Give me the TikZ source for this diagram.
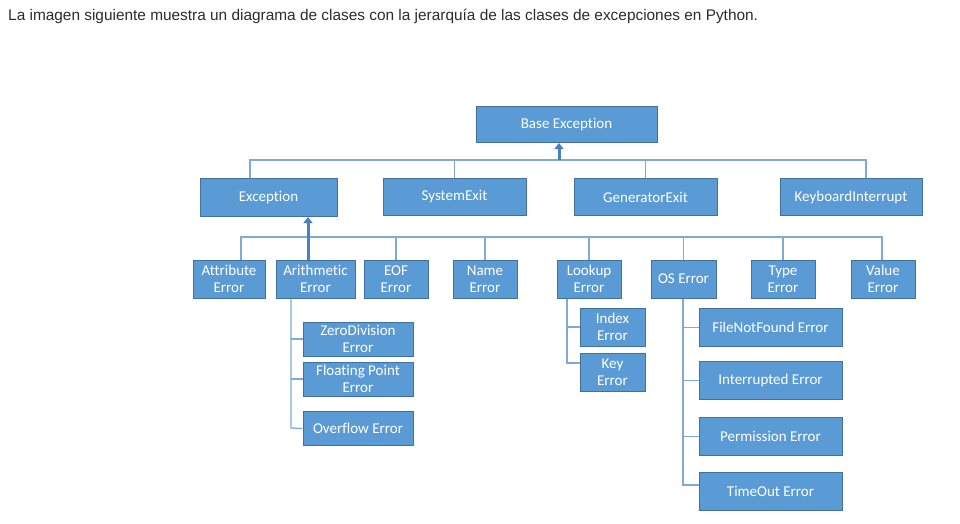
\documentclass[tikz,border=0pt]{standalone}
\usepackage{fontspec}
\setmainfont{Carlito}[Ligatures=NoCommon]
\newfontfamily\captionfont{Liberation Sans}
\usepackage{tikz}
\usetikzlibrary{arrows.meta, positioning}
\definecolor{boxfill}{HTML}{5B9BD5}
\definecolor{boxedge}{HTML}{41719C}
\definecolor{linkcol}{HTML}{7FA9D6}
\definecolor{arrowcol}{HTML}{4A7FC0}
\definecolor{captioncol}{HTML}{2B2B2B}

\begin{document}
\begin{tikzpicture}[x=1pt, y=-1pt,
	cls/.style={draw=boxedge, fill=boxfill, line width=1pt, text=white, align=center, inner sep=0pt,
		font=\fontsize{15}{17}\selectfont},
	link/.style={draw=linkcol, line width=1.3pt},
	inherit/.style={draw=arrowcol, line width=3pt, -{Triangle[length=6pt,width=9pt]}}]
						\useasboundingbox (0,0) rectangle (960,523);

						\node[anchor=base west, inner sep=0pt, text=captioncol, font=\captionfont\fontsize{15.4}{17}\selectfont] (caption) at (8,20) {La imagen siguiente muestra un diagrama de clases con la jerarquía de las clases de excepciones en Python.};

						\node[cls, minimum width=181pt, minimum height=36pt] (base) at (566.5,124.5) {Base Exception};

						\node[cls, minimum width=137pt, minimum height=38pt] (exc) at (268.5,197.5) {Exception};
						\node[cls, minimum width=143pt, minimum height=37pt] (sysexit) at (454.5,197) {SystemExit};
						\node[cls, minimum width=143pt, minimum height=37pt] (genexit) at (645.5,197) {GeneratorExit};
						\node[cls, minimum width=142pt, minimum height=37pt] (kbdint) at (851,197) {KeyboardInterrupt};

						\node[cls, minimum width=72pt, minimum height=38pt] (attr) at (229,279) {Attribute\\Error};
						\node[cls, minimum width=79pt, minimum height=38pt] (arith) at (315.5,279) {Arithmetic\\Error};
						\node[cls, minimum width=64pt, minimum height=38pt] (eof) at (396,279) {EOF\\Error};
						\node[cls, minimum width=64pt, minimum height=38pt] (name) at (485,279) {Name\\Error};
						\node[cls, minimum width=64pt, minimum height=38pt] (lookup) at (589,279) {Lookup\\Error};
						\node[cls, minimum width=65pt, minimum height=38pt] (oserr) at (683.5,279) {OS Error};
						\node[cls, minimum width=64pt, minimum height=38pt] (type) at (783,279) {Type\\Error};
						\node[cls, minimum width=64pt, minimum height=38pt] (value) at (883,279) {Value\\Error};

						\node[cls, minimum width=110pt, minimum height=34pt] (zerodiv) at (358,339) {ZeroDivision\\Error};
						\node[cls, minimum width=110pt, minimum height=34pt] (floatpt) at (358,379) {Floating Point\\Error};
						\node[cls, minimum width=110pt, minimum height=34pt] (overflow) at (358,428.5) {Overflow Error};

						\node[cls, minimum width=65pt, minimum height=38pt] (index) at (612.5,327) {Index\\Error};
						\node[cls, minimum width=65pt, minimum height=38pt] (key) at (612.5,372) {Key\\Error};

						\node[cls, minimum width=143pt, minimum height=38pt] (filenf) at (770.5,327.5) {FileNotFound Error};
						\node[cls, minimum width=143pt, minimum height=38pt] (interr) at (770.5,380.5) {Interrupted Error};
						\node[cls, minimum width=143pt, minimum height=38pt] (permerr) at (770.5,436.5) {Permission Error};
						\node[cls, minimum width=143pt, minimum height=38pt] (timeout) at (770.5,491.5) {TimeOut Error};

						\coordinate (topL) at (250,160);
						\coordinate (topR) at (866,160);
						\coordinate (tophub) at (559,160);
						\draw[link] (topL |- exc.north) -- (topL) -- (topR) -- (topR |- kbdint.north);
						\draw[link] (sysexit.north) -- (sysexit.north |- topL);
						\draw[link] (genexit.north) -- (genexit.north |- topL);
						\draw[inherit] (tophub) -- (tophub |- base.south);

						\coordinate (midL) at (241,237);
						\coordinate (midR) at (882,237);
						\coordinate (midhub) at (308,237);
						\draw[link] (midL |- attr.north) -- (midL) -- (midR) -- (midR |- value.north);
						\foreach \sub in {eof, name, lookup, oserr, type}
							\draw[link] (\sub.north) -- (\sub.north |- midL);
						\draw[inherit] (midhub |- arith.north) -- (midhub |- exc.south);

						\coordinate (arithtrunk) at (291,428);
						\draw[link] (arithtrunk |- arith.south) -- (arithtrunk) -- (overflow.west);
						\draw[link] (arithtrunk |- zerodiv.west) -- (zerodiv.west);
						\draw[link] (arithtrunk |- floatpt.west) -- (floatpt.west);

						\coordinate (lookuptrunk) at (567,363);
						\draw[link] (lookuptrunk |- lookup.south) -- (lookuptrunk) -- (lookuptrunk -| key.west);
						\draw[link] (lookuptrunk |- index.west) -- (index.west);

						\coordinate (ostrunk) at (683,485);
						\draw[link] (ostrunk |- oserr.south) -- (ostrunk) -- (ostrunk -| timeout.west);
						\draw[link] (ostrunk |- filenf.west) -- (filenf.west);
						\draw[link] (ostrunk |- interr.west) -- (interr.west);
						\draw[link] (ostrunk |- permerr.west) -- (permerr.west);
					\end{tikzpicture}
\end{document}
